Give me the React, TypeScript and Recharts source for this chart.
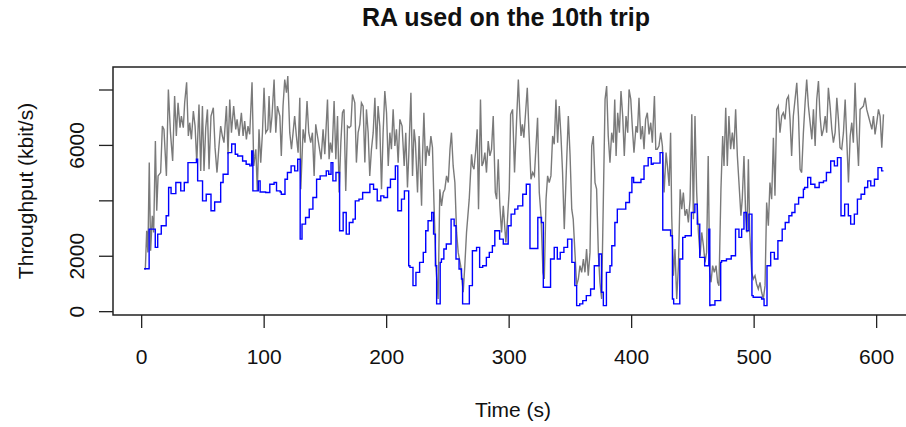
import { LineChart, Line, XAxis, YAxis, ReferenceArea } from "recharts";

// time (s), throughput (kbit/s)
const grayPoints: [number, number][] = [
  [2, 1550], [3, 1540], [4.1, 2920], [5.1, 2140], [6.2, 5380], [7.3, 2200], [8.7, 3460], [9.8, 2860], [11.2, 6160], [12.3, 3640],
  [13.4, 4900], [15.5, 5020], [16.9, 6700], [18.2, 6580], [20.2, 4900], [21.8, 8020], [23.5, 6460], [25.3, 5440], [26.9, 7780], [28.3, 6340],
  [29.7, 7540], [31.3, 6640], [32.4, 7060], [34, 6640], [35.1, 7540], [36.7, 8280], [38.1, 6340], [39.2, 6820], [40.6, 6220], [42.2, 7240],
  [43.6, 6700], [45, 5380], [46.8, 7480], [48.2, 5080], [49.6, 7420], [50.9, 5080], [52.3, 6640], [53.7, 7300], [55, 5140], [56.6, 7060],
  [58.5, 7360], [59.9, 5920], [61.5, 5020], [62.9, 5860], [64.5, 6700], [65.9, 6340], [67.2, 6100], [69.2, 7420], [70.5, 5680], [71.9, 7660],
  [73.3, 6460], [75.1, 7420], [76.8, 6580], [77.9, 6940], [79.5, 6340], [81.4, 7180], [82.8, 6340], [84.1, 6880], [85.5, 6220], [86.8, 6700],
  [88.2, 6400], [90.1, 8280], [91.5, 5260], [93.2, 5860], [94.4, 4360], [95.8, 6580], [97.2, 5380], [98.6, 6460], [99.9, 8080], [101.3, 6460],
  [103, 6580], [104, 7780], [105.1, 6460], [106.4, 7060], [108.1, 8380], [109.5, 6460], [110.8, 7420], [112.8, 7060], [114, 5620], [115.4, 7420],
  [116.8, 8380], [118.2, 7900], [119.3, 8500], [120.9, 6460], [122.3, 5860], [123.6, 6460], [124.9, 7060], [126.3, 6340], [127.7, 5740], [129.1, 7720],
  [129.9, 4420], [131.8, 6580], [133.3, 6100], [135, 7600], [136.4, 6460], [138, 6100], [139.4, 6460], [140.8, 4900], [142.1, 6760], [143.1, 6460],
  [144.8, 5980], [146.5, 5500], [148.1, 6580], [149.5, 5680], [151.7, 7660], [153, 5500], [154.1, 6100], [155.5, 5740], [157.1, 7600], [158.5, 5500],
  [159.9, 7060], [161.2, 4300], [162.6, 6100], [163.9, 7180], [165.2, 7300], [166.6, 4360], [168, 6700], [169.4, 6640], [170.8, 6700], [172.1, 7840],
  [174, 7540], [175.3, 5380], [176.7, 6460], [178.1, 6760], [179.4, 7540], [180.8, 7420], [182.2, 5380], [183.5, 7300], [184.9, 6460], [186.2, 4900],
  [187.6, 5860], [189, 6460], [190.4, 7720], [191.7, 5860], [193, 7420], [194.4, 6700], [195.8, 4420], [197.1, 6460], [198.5, 7960], [199.9, 7180],
  [201.3, 5260], [202.6, 6460], [203.9, 5860], [205.3, 7300], [206.7, 5980], [208, 6580], [209.4, 5380], [210.8, 6940], [212.6, 6700], [214.3, 5260],
  [215.6, 6460], [217, 4480], [218.1, 5680], [219.8, 7900], [221.1, 4900], [222.4, 6580], [223.5, 6100], [225.2, 4300], [226.5, 6340], [228.5, 3820],
  [229.3, 5620], [230.4, 7180], [231.8, 5260], [233, 5980], [234.7, 5620], [236.1, 6340], [237.4, 5920], [238.6, 3940], [240.2, 1660], [242, 460],
  [243.4, 4420], [244.8, 3820], [246.2, 4300], [247.5, 4420], [248.9, 4900], [250.3, 4660], [251.7, 5860], [252.9, 6460], [254.3, 5260], [255.7, 4660],
  [257.1, 2860], [258.4, 2140], [260.4, 1660], [262.5, 700], [263.8, 1660], [265.2, 2860], [267.4, 4060], [269.3, 5680], [270.2, 5260], [271.3, 5140],
  [272.8, 5860], [273.9, 6580], [275, 3700], [276.6, 7660], [277.8, 5260], [278.9, 5380], [280.2, 5740], [281.5, 5020], [282.9, 6160], [284.3, 5620],
  [285.6, 5860], [287, 7060], [288.7, 4300], [289.8, 4060], [291.1, 5500], [292.4, 3820], [293.8, 2860], [295.2, 3820], [297.3, 2500], [298.5, 3220],
  [300.1, 4420], [301.2, 7120], [302.8, 7300], [304.4, 5020], [306.1, 6940], [307.5, 8380], [308.8, 7060], [309.7, 6340], [310.8, 6760], [312, 6280],
  [313.4, 7180], [314.8, 8080], [316.2, 6460], [317.8, 4780], [319.2, 5020], [320.6, 4900], [321.8, 5860], [323.2, 7000], [324.6, 4300], [326, 3460],
  [327.6, 1420], [328.7, 1180], [330.1, 4060], [331.4, 4900], [332.7, 4660], [334.1, 4900], [335.5, 6340], [336.8, 6040], [338.2, 7660], [339.6, 6100],
  [340.9, 7420], [342.3, 6340], [343.6, 5020], [345, 2980], [346.9, 5380], [348.3, 7060], [349.7, 5680], [351.1, 3700], [352.3, 3340], [353.7, 2140],
  [355.1, 940], [356.5, 1180], [357.8, 1660], [359.2, 1420], [360.6, 1900], [361.9, 1420], [363.2, 2260], [364.6, 1300], [366, 2140], [367.4, 5980],
  [368.7, 6340], [370.1, 4660], [371.4, 4420], [372.8, 2140], [374.1, 1060], [375.5, 460], [376.9, 4060], [378.3, 7660], [379.6, 8140], [380.9, 6340],
  [382.3, 5380], [383.7, 6460], [385.1, 6100], [386.2, 7660], [387.3, 5620], [388.6, 7180], [390, 6460], [391.3, 7960], [392.7, 7060], [394, 5620],
  [395.4, 7060], [396.8, 6460], [397.9, 8020], [399.3, 7660], [400.5, 6700], [401.9, 5740], [403.6, 6700], [404.7, 6460], [406, 7720], [407.4, 6220],
  [408.8, 6700], [410.1, 5860], [411.4, 6940], [412.8, 7180], [414.2, 6400], [415.6, 6820], [416.9, 6100], [418.6, 7780], [419.7, 5860], [420.9, 5860],
  [422.3, 5980], [423.7, 6460], [425.1, 5980], [426.5, 4300], [428.1, 5740], [429.2, 5260], [430.6, 4540], [431.8, 6460], [432.7, 3460], [434.1, 1300],
  [435.4, 2260], [436.8, 460], [438.2, 1660], [439.6, 4420], [440.9, 3700], [442.2, 4300], [443.6, 3460], [445, 3700], [446.3, 3220], [447.7, 4060],
  [449.1, 7120], [450.4, 3340], [451.7, 7060], [453.1, 4300], [454.5, 2860], [455.9, 2020], [457.2, 2860], [458.6, 2380], [459.9, 1780], [461.2, 2140],
  [462.5, 5620], [463.7, 1420], [464.8, 1060], [466.1, 1660], [467.5, 1420], [468.9, 1660], [470.2, 1060], [471.3, 940], [472.9, 4420], [474.3, 6340],
  [475.4, 5260], [476.8, 7360], [478.1, 5260], [479.4, 7060], [480.8, 5860], [482.2, 6460], [483.5, 5860], [484.9, 7300], [486.3, 5620], [487.6, 4660],
  [489.2, 3460], [490.3, 4060], [491.7, 5620], [493.1, 3460], [494.2, 2860], [495.3, 5500], [496.4, 2860], [498, 1420], [499.3, 1180], [500.7, 1300],
  [502, 1000], [503.4, 820], [504.8, 1060], [506.1, 700], [507.5, 460], [508.9, 940], [510.2, 3940], [511.6, 3100], [512.9, 4660], [514.3, 4060],
  [515.7, 6280], [517, 4180], [518.4, 7300], [519.7, 7420], [521.1, 6460], [522.5, 7060], [523.8, 7180], [525.2, 6940], [526.6, 7660], [528, 7780],
  [529.3, 6940], [530.6, 5620], [532, 7060], [533.4, 7660], [534.8, 8260], [536.2, 7060], [537.5, 5140], [538.8, 5020], [540.2, 6460], [541.6, 7540],
  [542.9, 8380], [544.3, 7420], [545.7, 6820], [547.1, 6220], [548.4, 7300], [549.8, 5980], [551.1, 7660], [552.5, 8320], [553.8, 7060], [555.2, 6340],
  [556.6, 6580], [558, 7060], [559.2, 6460], [560.6, 8080], [562, 7420], [563.4, 6580], [564.7, 6100], [566.1, 6460], [567.5, 7720], [568.8, 6940],
  [570.1, 5920], [571.5, 5860], [572.9, 6460], [574.3, 7660], [575.6, 6220], [577, 4660], [578.4, 6340], [579.7, 6820], [581, 6100], [582.4, 8260],
  [583.8, 6460], [585.2, 5260], [586.5, 7300], [587.9, 7360], [589.2, 7420], [590.6, 7720], [591.9, 7300], [593.3, 7060], [594.7, 6820], [596.1, 6580],
  [597.4, 7060], [598.7, 6400], [600.1, 6820], [601.5, 7300], [602.8, 7060], [604.2, 5920], [605.6, 7120],
];

// rate chosen by the RA, a step series
const bluePoints: [number, number][] = [
  [2, 1550], [6.1, 2980], [11.1, 2320], [13.1, 2800], [16, 3100], [20, 3460], [22, 4480], [24, 4260], [27.9, 4660], [31.9, 4360],
  [34.8, 4660], [37.8, 5380], [44.7, 5500], [45.7, 4720], [49.7, 4000], [52.7, 4240], [56.6, 3640], [59.6, 3960], [64.5, 4660], [66.5, 4960],
  [70.5, 5740], [73.5, 6050], [76.4, 5680], [78.4, 5620], [82.4, 5440], [85.3, 5320], [88.3, 5260], [89.8, 5800], [90.8, 4360], [95.2, 4720],
  [96.7, 4320], [101.2, 4300], [104.6, 4600], [108.1, 4660], [110.1, 4360], [113.1, 4320], [114, 4240], [117, 4780], [119, 5020], [122, 5260],
  [124.9, 5080], [127.4, 5500], [129.4, 2620], [130.9, 3160], [133.8, 3400], [136.8, 3700], [139.8, 4120], [142.8, 4780], [145.7, 4900], [150.7, 5080],
  [152.7, 4960], [154.6, 5380], [156.1, 4720], [158.6, 5020], [161.6, 2920], [164.5, 3580], [167, 2800], [169.5, 3220], [172.5, 3340], [174.4, 4000],
  [177.4, 4060], [180.4, 4300], [186.3, 4600], [189.3, 4420], [192.3, 4000], [195.2, 4180], [197.7, 4120], [200.7, 4480], [203.1, 4780], [207.1, 5260],
  [209.1, 3640], [212.1, 4060], [214.5, 4360], [218, 1660], [219, 1600], [221.5, 940], [223.9, 1420], [226.9, 1780], [229.9, 2140], [231.9, 2920],
  [233.8, 3280], [236.8, 3580], [238.3, 2800], [239.8, 1660], [240.8, 280], [243.7, 1780], [244.7, 1900], [246.7, 2260], [248.7, 2440], [252.6, 3340],
  [255.1, 3100], [256.6, 1900], [259.1, 1540], [261.1, 1180], [262, 280], [267.5, 940], [270, 2200], [273.4, 2320], [275.9, 1600], [278.4, 1660],
  [281.4, 1960], [283.8, 2140], [286.3, 2380], [288.3, 2920], [292.2, 2620], [295.2, 2440], [299.2, 3100], [301.6, 3520], [304.6, 3700], [307.1, 3820],
  [311.1, 4240], [314, 4600], [317, 2280], [323.4, 3400], [326.4, 3220], [327.9, 880], [333.8, 1900], [336.8, 2320], [339.3, 1900], [341.7, 2140],
  [344.7, 2320], [347.7, 2620], [351.2, 1780], [353.6, 940], [355.1, 220], [357.6, 280], [360.1, 400], [363, 580], [366.5, 820], [369.5, 1660],
  [373.4, 2080], [375.4, 700], [376.9, 220], [379.4, 1420], [382.3, 1660], [383.8, 2380], [386.3, 3220], [388.3, 3700], [395.2, 3940], [398.2, 4300],
  [400.2, 4840], [401.6, 4660], [407.6, 4780], [410.1, 5260], [413.5, 5560], [416, 5320], [417.5, 5360], [423.2, 5740], [425.4, 2950], [431.8, 2740],
  [433.3, 460], [434.3, 280], [439.3, 1900], [441.7, 2680], [443.7, 2740], [448.7, 3580], [451.6, 3880], [453.6, 3160], [455.6, 1960], [459.6, 1660],
  [463, 2980], [463.8, 220], [464.5, 240], [468, 400], [472.7, 1780], [473.4, 1840], [477.4, 1900], [481.3, 2020], [484.8, 2980], [487.6, 2680],
  [489.8, 2980], [491.7, 3580], [493.7, 2920], [495.7, 3520], [498.2, 580], [499.2, 520], [506.1, 460], [508.1, 220], [510.5, 1660], [513.5, 2140],
  [516.5, 1900], [519.4, 2560], [522.9, 2980], [525.4, 3220], [528.4, 3460], [530.8, 3580], [533.3, 3880], [536.3, 4120], [540.2, 4420], [541.2, 4480],
  [543.7, 4840], [546.2, 4600], [549.6, 4480], [553.1, 4660], [556.6, 4720], [559, 5020], [562.5, 5440], [565.5, 5260], [568, 5560], [570.9, 3460],
  [573.9, 3880], [576.9, 3460], [578.8, 3160], [581.8, 3520], [584.3, 4060], [587.3, 4240], [590.2, 4480], [592.7, 4720], [595.2, 4540], [598.2, 4780],
  [601.1, 5200], [604.1, 5080], [605.6, 5080],
];

const xTicks = [0, 100, 200, 300, 400, 500, 600];
const yTicks = [0, 2000, 4000, 6000, 8000];
const yLabelled = [0, 2000, 6000];

const X_DOMAIN: [number, number] = [-23.4, 630.5];
const Y_DOMAIN: [number, number] = [-120, 8830];

const grayData = grayPoints.map(([t, v]) => ({ t, v }));
const blueData = bluePoints.map(([t, v]) => ({ t, v }));

const FONT = "'Liberation Sans', Arial, Helvetica, sans-serif";

const XTick = ({ x, payload }: any) => (
  <text x={x} y={364} textAnchor="middle" fontSize={21} fill="#111" fontFamily={FONT}>
    {payload.value}
  </text>
);

const YTick = ({ y, payload }: any) => {
  if (!yLabelled.includes(payload.value)) return <g />;
  return (
    <text
      x={77}
      y={y}
      transform={`rotate(-90, 77, ${y})`}
      textAnchor="middle"
      dominantBaseline="central"
      fontSize={21}
      fill="#111"
      fontFamily={FONT}
    >
      {payload.value}
    </text>
  );
};

export default function App() {
  return (
    <div
      style={{
        position: "absolute",
        left: 0,
        top: 0,
        width: 906,
        height: 427,
        overflow: "hidden",
        background: "#fff",
        fontFamily: FONT,
      }}
    >
      <LineChart width={920} height={427} margin={{ top: 67, right: 6, bottom: 0, left: 0 }}>
        <XAxis
          type="number"
          dataKey="t"
          domain={X_DOMAIN}
          allowDataOverflow
          ticks={xTicks}
          interval={0}
          axisLine={false}
          tickLine={{ stroke: "#222", strokeWidth: 1.3 }}
          tickSize={13}
          height={112}
          tick={<XTick />}
        />
        <YAxis
          type="number"
          domain={Y_DOMAIN}
          allowDataOverflow
          ticks={yTicks}
          interval={0}
          axisLine={false}
          tickLine={{ stroke: "#222", strokeWidth: 1.3 }}
          tickSize={14}
          width={113}
          tick={<YTick />}
        />
        <ReferenceArea
          x1={X_DOMAIN[0]}
          x2={X_DOMAIN[1]}
          y1={Y_DOMAIN[0]}
          y2={Y_DOMAIN[1]}
          fill="none"
          fillOpacity={0}
          stroke="#222"
          strokeWidth={1.5}
        />
        <Line
          data={grayData}
          dataKey="v"
          type="linear"
          stroke="#7a7a7a"
          strokeWidth={1.4}
          dot={false}
          activeDot={false}
          isAnimationActive={false}
        />
        <Line
          data={blueData}
          dataKey="v"
          type="stepAfter"
          stroke="#0000ff"
          strokeWidth={1.4}
          dot={false}
          activeDot={false}
          isAnimationActive={false}
        />
      </LineChart>
      <svg
        width={906}
        height={427}
        style={{ position: "absolute", left: 0, top: 0, pointerEvents: "none" }}
      >
        <text x={506} y={26} textAnchor="middle" fontSize={25} fontWeight="bold" fill="#111" fontFamily={FONT}>
          RA used on the 10th trip
        </text>
        <text x={513} y={417} textAnchor="middle" fontSize={21} fill="#111" fontFamily={FONT}>
          Time (s)
        </text>
        <text
          x={25}
          y={191}
          transform="rotate(-90, 25, 191)"
          textAnchor="middle"
          dominantBaseline="central"
          fontSize={21}
          fill="#111"
          fontFamily={FONT}
        >
          Throughput (kbit/s)
        </text>
      </svg>
    </div>
  );
}
